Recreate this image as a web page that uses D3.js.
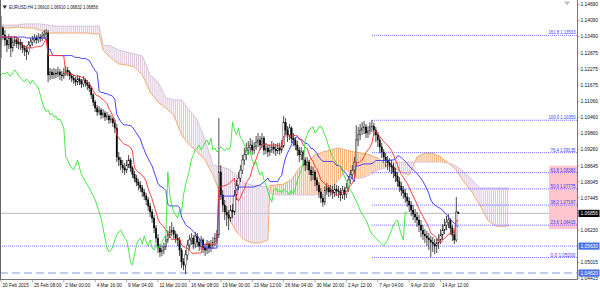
<!DOCTYPE html>
<html><head><meta charset="utf-8">
<script src="https://cdn.jsdelivr.net/npm/d3@7"></script>
<style>html,body{margin:0;padding:0;background:#fff;}svg{display:block;}</style>
</head><body>
<svg id="c" width="600" height="290"></svg>
<script>
// ---------------- DATA ----------------
const symbol = "EURUSD,H4";
const lastQuote = ["1.06910", "1.06910", "1.06832", "1.06856"];
const firstOpen = 1.1317;
const closes = [
1.1381,1.1355,1.1336,1.1317,1.1343,1.1306,1.1328,1.1336,1.1321,1.1328,
1.1317,1.1306,1.1298,1.1291,1.1317,1.1328,1.1336,1.1343,1.1336,1.1347,
1.1343,1.1351,1.1358,1.1362,1.1205,1.1216,1.1205,1.1212,1.1208,1.1216,
1.1205,1.1201,1.1212,1.1223,1.1216,1.1201,1.1193,1.1186,1.1178,1.1190,
1.1182,1.1171,1.1186,1.1175,1.1167,1.1156,1.1130,1.1103,1.1081,1.1066,
1.1073,1.1055,1.1062,1.1047,1.1051,1.1036,1.1040,1.1025,1.1006,1.0897,
1.0886,1.0867,1.0856,1.0848,1.0867,1.0886,1.0856,1.0833,1.0818,1.0803,
1.0792,1.0781,1.0766,1.0751,1.0736,1.0713,1.0691,1.0668,1.0631,1.0593,
1.0556,1.0541,1.0548,1.0560,1.0586,1.0605,1.0616,1.0623,1.0608,1.0593,
1.0586,1.0548,1.0503,1.0492,1.0530,1.0567,1.0586,1.0593,1.0571,1.0601,
1.0578,1.0563,1.0586,1.0556,1.0548,1.0571,1.0556,1.0567,1.0578,1.0593,
1.0605,1.0841,1.0755,1.0717,1.0691,1.0680,1.0668,1.0698,1.0691,1.0755,
1.0792,1.0818,1.0848,1.0886,1.0905,1.0923,1.0931,1.0942,1.0923,1.0935,
1.0953,1.0961,1.0942,1.0968,1.0923,1.0931,1.0916,1.0923,1.0935,1.0927,
1.0920,1.0931,1.0923,1.0938,1.1028,1.0998,1.0980,1.1006,1.0968,1.0961,
1.0942,1.0923,1.0905,1.0916,1.0886,1.0867,1.0878,1.0848,1.0830,1.0841,
1.0811,1.0792,1.0766,1.0743,1.0728,1.0773,1.0781,1.0766,1.0773,1.0762,
1.0777,1.0770,1.0766,1.0755,1.0773,1.0758,1.0781,1.0811,1.0830,1.0848,
1.0878,1.0961,1.0980,1.0998,1.1006,1.1010,1.0987,1.0995,1.1010,1.1013,
1.0998,1.0980,1.0961,1.0935,1.0916,1.0897,1.0886,1.0875,1.0867,1.0860,
1.0841,1.0826,1.0807,1.0788,1.0773,1.0762,1.0747,1.0732,1.0717,1.0698,
1.0683,1.0672,1.0661,1.0642,1.0623,1.0608,1.0601,1.0593,1.0586,1.0578,
1.0571,1.0563,1.0575,1.0586,1.0605,1.0623,1.0642,1.0653,1.0661,1.0631,
1.0605,1.0586,1.0691,1.06856];
const highs = [
1.1426,1.1388,1.1373,1.1347,1.1358,1.1351,1.1343,1.1351,1.1347,1.1343,
1.1340,1.1328,1.1317,1.1313,1.1332,1.1343,1.1351,1.1358,1.1355,1.1362,
1.1358,1.1366,1.1373,1.1377,1.1373,1.1231,1.1227,1.1231,1.1227,1.1235,
1.1227,1.1220,1.1231,1.1238,1.1235,1.1223,1.1212,1.1205,1.1197,1.1205,
1.1201,1.1190,1.1201,1.1193,1.1186,1.1178,1.1163,1.1137,1.1111,1.1092,
1.1088,1.1081,1.1077,1.1070,1.1066,1.1058,1.1055,1.1047,1.1036,1.1021,
1.0916,1.0897,1.0886,1.0875,1.0886,1.0905,1.0893,1.0863,1.0845,1.0830,
1.0815,1.0807,1.0792,1.0777,1.0762,1.0747,1.0725,1.0702,1.0680,1.0642,
1.0608,1.0571,1.0567,1.0575,1.0601,1.0623,1.0638,1.0653,1.0635,1.0620,
1.0608,1.0597,1.0556,1.0518,1.0548,1.0586,1.0605,1.0612,1.0605,1.0616,
1.0612,1.0593,1.0601,1.0593,1.0571,1.0586,1.0582,1.0586,1.0597,1.0612,
1.0623,1.1043,1.0867,1.0773,1.0736,1.0713,1.0698,1.0717,1.0721,1.0773,
1.0811,1.0841,1.0867,1.0905,1.0931,1.0950,1.0957,1.0968,1.0961,1.0953,
1.0976,1.0987,1.0976,1.0987,1.0976,1.0950,1.0942,1.0942,1.0957,1.0950,
1.0946,1.0950,1.0950,1.0961,1.1051,1.1043,1.1013,1.1021,1.1013,1.0987,
1.0972,1.0957,1.0935,1.0935,1.0923,1.0897,1.0897,1.0886,1.0863,1.0860,
1.0848,1.0822,1.0803,1.0781,1.0758,1.0788,1.0800,1.0792,1.0792,1.0788,
1.0796,1.0792,1.0788,1.0781,1.0788,1.0785,1.0800,1.0826,1.0848,1.0867,
1.0897,1.1017,1.1010,1.1021,1.1028,1.1032,1.1021,1.1013,1.1028,1.1036,
1.1025,1.1010,1.0991,1.0972,1.0950,1.0927,1.0912,1.0901,1.0893,1.0886,
1.0875,1.0856,1.0841,1.0822,1.0803,1.0788,1.0777,1.0762,1.0747,1.0732,
1.0717,1.0702,1.0691,1.0680,1.0661,1.0642,1.0627,1.0620,1.0612,1.0601,
1.0597,1.0590,1.0593,1.0608,1.0627,1.0646,1.0665,1.0676,1.0683,1.0668,
1.0642,1.0623,1.0747,1.06910];
const lows = [
1.1268,1.1336,1.1313,1.1291,1.1302,1.1272,1.1291,1.1313,1.1306,1.1302,
1.1298,1.1287,1.1276,1.1261,1.1280,1.1306,1.1313,1.1325,1.1321,1.1325,
1.1328,1.1332,1.1340,1.1343,1.1178,1.1186,1.1190,1.1190,1.1193,1.1197,
1.1186,1.1182,1.1190,1.1201,1.1201,1.1186,1.1178,1.1171,1.1163,1.1167,
1.1167,1.1156,1.1160,1.1160,1.1148,1.1141,1.1115,1.1088,1.1066,1.1051,
1.1055,1.1040,1.1043,1.1032,1.1036,1.1021,1.1025,1.1010,1.0987,1.0878,
1.0863,1.0848,1.0837,1.0830,1.0837,1.0856,1.0841,1.0818,1.0803,1.0788,
1.0773,1.0766,1.0747,1.0736,1.0717,1.0695,1.0672,1.0650,1.0612,1.0575,
1.0537,1.0522,1.0526,1.0533,1.0548,1.0575,1.0593,1.0601,1.0590,1.0575,
1.0563,1.0526,1.0481,1.0473,1.0458,1.0511,1.0548,1.0567,1.0552,1.0556,
1.0560,1.0545,1.0548,1.0537,1.0526,1.0533,1.0537,1.0541,1.0552,1.0563,
1.0578,1.0593,1.0736,1.0691,1.0661,1.0638,1.0623,1.0653,1.0668,1.0680,
1.0736,1.0773,1.0803,1.0833,1.0867,1.0886,1.0905,1.0912,1.0905,1.0908,
1.0923,1.0935,1.0923,1.0931,1.0905,1.0908,1.0897,1.0901,1.0912,1.0908,
1.0901,1.0908,1.0905,1.0912,1.0931,1.0980,1.0953,1.0961,1.0950,1.0938,
1.0923,1.0901,1.0878,1.0886,1.0863,1.0845,1.0848,1.0830,1.0807,1.0811,
1.0788,1.0770,1.0743,1.0725,1.0710,1.0717,1.0755,1.0747,1.0751,1.0740,
1.0747,1.0751,1.0743,1.0732,1.0740,1.0736,1.0743,1.0766,1.0796,1.0815,
1.0833,1.0863,1.0938,1.0961,1.0980,1.0983,1.0968,1.0968,1.0980,1.0991,
1.0976,1.0953,1.0935,1.0912,1.0893,1.0875,1.0860,1.0848,1.0841,1.0833,
1.0818,1.0803,1.0785,1.0766,1.0751,1.0740,1.0725,1.0710,1.0691,1.0676,
1.0661,1.0650,1.0635,1.0616,1.0597,1.0586,1.0575,1.0563,1.0548,1.0522,
1.0541,1.0533,1.0537,1.0552,1.0571,1.0586,1.0608,1.0623,1.0631,1.0608,
1.0582,1.0571,1.0578,1.06832];

// Ichimoku cloud spans (plotted bar index)
const cloudBars = [0,4,8,12,16,20,24,28,32,36,40,44,48,50,52,56,60,64,68,72,76,80,84,88,92,96,100,104,108,112,116,120,124,128,132,136,137,140,144,148,152,156,160,164,168,172,176,180,184,188,192,196,200,204,208,212,216,220,224,228,232,236,240,244,248,252,256,259];
const spanA = [1.1381,1.1381,1.1385,1.1381,1.1381,1.1373,1.1362,1.1362,1.1362,1.1362,1.1362,1.1362,1.1358,1.1358,1.1298,1.1268,1.1246,1.1242,1.1235,1.1205,1.1141,1.1103,1.1081,1.1055,1.0980,1.0942,1.0916,1.0886,1.0830,1.0755,1.0668,1.0616,1.0586,1.0575,1.0575,1.0586,1.0790,1.0792,1.0796,1.0811,1.0856,1.0878,1.0905,1.0916,1.0923,1.0931,1.0923,1.0916,1.0912,1.0905,1.0893,1.0867,1.0856,1.0841,1.0830,1.0897,1.0912,1.0912,1.0897,1.0875,1.0848,1.0803,1.0766,1.0717,1.0661,1.0638,1.0635,1.0642];
const spanB = [1.1392,1.1392,1.1392,1.1396,1.1396,1.1396,1.1392,1.1388,1.1388,1.1388,1.1388,1.1388,1.1388,1.1388,1.1317,1.1313,1.1298,1.1291,1.1283,1.1276,1.1205,1.1178,1.1118,1.1111,1.1111,1.1073,1.1036,1.0961,1.0867,1.0860,1.0852,1.0830,1.0800,1.0792,1.0788,1.0785,1.0760,1.0755,1.0755,1.0755,1.0755,1.0755,1.0755,1.0762,1.0773,1.0811,1.0848,1.0818,1.0818,1.0830,1.0848,1.0856,1.0878,1.0878,1.0878,1.0878,1.0878,1.0878,1.0878,1.0875,1.0863,1.0841,1.0811,1.0781,1.0781,1.0781,1.0781,1.0781];

const priceTicks = [1.14690,1.14090,1.13490,1.12875,1.12275,1.11675,1.11060,1.10460,1.09860,1.09260,1.08645,1.08045,1.07445,1.06230,1.05015,1.04415];
const timeLabels = ["20 Feb 2015","25 Feb 08:00","2 Mar 00:00","4 Mar 16:00","9 Mar 04:00","11 Mar 20:00","16 Mar 08:00","19 Mar 00:00","23 Mar 12:00","26 Mar 04:00","30 Mar 20:00","2 Apr 12:00","7 Apr 04:00","9 Apr 20:00","14 Apr 12:00"];
const timeLabelBars = [0,16,32,48,64,80,96,112,128,144,160,176,192,208,224];

const fibLevels = [161.8,100.0,76.4,61.8,50.0,38.2,23.6,0.0];
const fibLow = 1.05200, fibHigh = 1.10350, fibStartBar = 189;
const bidPrice = 1.06856;
const blueLinePrice = 1.05630;
const dashedLinePrice = 1.04620;

// ---------------- DRAW ----------------
const svg = d3.select("#c");
const PR = 577, PB = 279.5;
const FONT = "'Liberation Sans', Arial, sans-serif";
const x = d3.scaleLinear().domain([0, 224]).range([1, 440.6]);
const y = d3.scaleLinear().domain([1.04415, 1.14690]).range([278.5, 4.5]);
const step = x(1) - x(0);
const opens = closes.map((c, i) => i === 0 ? firstOpen : closes[i - 1]);

const defs = svg.append("defs");
defs.append("clipPath").attr("id", "plot").append("rect").attr("x", 0).attr("y", 0).attr("width", PR).attr("height", PB);
function hatch(id, color) {
  const p = defs.append("pattern").attr("id", id).attr("patternUnits", "userSpaceOnUse")
    .attr("x", x(0) - 0.45).attr("y", 0).attr("width", step).attr("height", 10);
  p.append("rect").attr("x", 0).attr("y", 0).attr("width", 0.9).attr("height", 10).attr("fill", color);
}
hatch("hSandy", "#F4A460");
hatch("hThistle", "#D8BFD8");

const cloud = cloudBars.map((b, i) => ({ b, a: spanA[i], bb: spanB[i] }));
defs.append("clipPath").attr("id", "aboveB").append("path")
  .attr("d", d3.area().x(d => x(d.b)).y0(0).y1(d => y(d.bb))(cloud));
defs.append("clipPath").attr("id", "aboveA").append("path")
  .attr("d", d3.area().x(d => x(d.b)).y0(0).y1(d => y(d.a))(cloud));

const g = svg.append("g").attr("clip-path", "url(#plot)");
const band = d3.area().x(d => x(d.b)).y0(d => y(d.a)).y1(d => y(d.bb));
g.append("path").attr("d", band(cloud)).attr("fill", "url(#hSandy)").attr("clip-path", "url(#aboveB)");
g.append("path").attr("d", band(cloud)).attr("fill", "url(#hThistle)").attr("clip-path", "url(#aboveA)");
g.append("path").attr("d", d3.line().x(d => x(d.b)).y(d => y(d.a))(cloud))
  .attr("fill", "none").attr("stroke", "#F4A460").attr("stroke-width", 0.9);
g.append("path").attr("d", d3.line().x(d => x(d.b)).y(d => y(d.bb))(cloud))
  .attr("fill", "none").attr("stroke", "#D8BFD8").attr("stroke-width", 0.9);

// horizontal lines
g.append("line").attr("x1", 0).attr("x2", PR).attr("y1", y(bidPrice)).attr("y2", y(bidPrice))
  .attr("stroke", "#c8c8c8").attr("stroke-width", 1.2);
g.append("line").attr("x1", 0).attr("x2", PR).attr("y1", y(blueLinePrice)).attr("y2", y(blueLinePrice))
  .attr("stroke", "#5a5af0").attr("stroke-width", 0.8).attr("stroke-dasharray", "1,1");
g.append("line").attr("x1", 0).attr("x2", PR).attr("y1", y(dashedLinePrice)).attr("y2", y(dashedLinePrice))
  .attr("stroke", "#a9bff0").attr("stroke-width", 1.5).attr("stroke-dasharray", "8,4");

// fibonacci
const fibs = fibLevels.map(l => ({ l, p: fibLow + (fibHigh - fibLow) * l / 100 }));
g.append("rect").attr("x", 549).attr("width", PR - 549)
  .attr("y", y(fibLow + (fibHigh - fibLow) * 0.618) - 7)
  .attr("height", y(fibLow + (fibHigh - fibLow) * 0.236) - y(fibLow + (fibHigh - fibLow) * 0.618) + 11)
  .attr("fill", "#ffc6cf");
g.selectAll(".fib").data(fibs).join("line")
  .attr("x1", x(fibStartBar)).attr("x2", PR).attr("y1", d => y(d.p)).attr("y2", d => y(d.p))
  .attr("stroke", "#4d4dff").attr("stroke-width", 0.8).attr("stroke-dasharray", "1,1");
g.selectAll(".fibt").data(fibs).join("text")
  .attr("x", 575.5).attr("y", d => y(d.p) - 1).attr("text-anchor", "end")
  .attr("font-family", FONT).attr("font-size", 4.6).attr("fill", "#3535ff")
  .attr("textLength", d => d.l >= 100 ? 27 : 25).attr("lengthAdjust", "spacingAndGlyphs")
  .text(d => d.l.toFixed(1) + " " + d.p.toFixed(5));

// candles
const bars = d3.range(closes.length);
g.selectAll(".wick").data(bars).join("line")
  .attr("x1", i => x(i)).attr("x2", i => x(i)).attr("y1", i => y(highs[i])).attr("y2", i => y(lows[i]))
  .attr("stroke", "#000").attr("stroke-width", 0.7);
g.selectAll(".body").data(bars).join("rect")
  .attr("x", i => x(i) - 0.7).attr("width", 1.4)
  .attr("y", i => y(Math.max(opens[i], closes[i])))
  .attr("height", i => Math.max(0.6, Math.abs(y(opens[i]) - y(closes[i]))))
  .attr("fill", i => closes[i] >= opens[i] ? "#fff" : "#000")
  .attr("stroke", "#000").attr("stroke-width", 0.4);

// ichimoku lines
function midline(period) {
  return closes.map((_, i) => {
    const s = Math.max(0, i - period + 1);
    return (d3.max(highs.slice(s, i + 1)) + d3.min(lows.slice(s, i + 1))) / 2;
  });
}
const tenkan = midline(9), kijun = midline(26);
const ln = d3.line().x(d => x(d[0])).y(d => y(d[1]));
g.append("path").attr("d", ln(kijun.map((v, i) => [i, v]))).attr("fill", "none").attr("stroke", "#2f2fff").attr("stroke-width", 0.9);
g.append("path").attr("d", ln(tenkan.map((v, i) => [i, v]))).attr("fill", "none").attr("stroke", "#ff2a2a").attr("stroke-width", 0.9);
g.append("path").attr("d", ln(closes.slice(26).map((v, i) => [i, v]))).attr("fill", "none").attr("stroke", "#33e633").attr("stroke-width", 0.9);

// frame
svg.append("line").attr("x1", 0.5).attr("x2", 0.5).attr("y1", 0).attr("y2", PB).attr("stroke", "#666").attr("stroke-width", 1);
svg.append("line").attr("x1", 0).attr("x2", PR + 0.5).attr("y1", PB).attr("y2", PB).attr("stroke", "#777").attr("stroke-width", 1);
svg.append("line").attr("x1", PR + 0.5).attr("x2", PR + 0.5).attr("y1", 0).attr("y2", PB).attr("stroke", "#777").attr("stroke-width", 1);

// title
svg.append("path").attr("d", "M2.5,5.5 L7,5.5 L4.75,9 Z").attr("fill", "#333");
svg.append("text").attr("x", 9).attr("y", 8.8).attr("font-family", FONT).attr("font-size", 4.8).attr("fill", "#111")
  .attr("textLength", 89).attr("lengthAdjust", "spacingAndGlyphs")
  .text(symbol + " " + lastQuote.join(" "));
// shift marker
svg.append("path").attr("d", "M564,1.5 L570,1.5 L567,5.5 Z").attr("fill", "#bdbdbd");

// price axis
const ax = svg.append("g");
ax.selectAll(".pt").data(priceTicks).join("line")
  .attr("x1", PR).attr("x2", PR + 2.5).attr("y1", d => y(d)).attr("y2", d => y(d)).attr("stroke", "#777").attr("stroke-width", 0.6);
ax.selectAll(".pl").data(priceTicks).join("text")
  .attr("x", 580.5).attr("y", d => y(d) + 1.8).attr("font-family", FONT).attr("font-size", 5).attr("fill", "#111")
  .attr("textLength", 17.5).attr("lengthAdjust", "spacingAndGlyphs")
  .text(d => d.toFixed(5));
const marks = [{ p: bidPrice, bg: "#000" }, { p: blueLinePrice, bg: "#4a73e8" }, { p: dashedLinePrice, bg: "#4a73e8" }];
marks.forEach(m => {
  ax.append("rect").attr("x", 578.5).attr("y", y(m.p) - 3.6).attr("width", 21).attr("height", 7.2).attr("fill", m.bg);
  ax.append("text").attr("x", 580.5).attr("y", y(m.p) + 1.8).attr("font-family", FONT).attr("font-size", 5).attr("fill", "#fff")
    .attr("textLength", 17.5).attr("lengthAdjust", "spacingAndGlyphs").text(m.p.toFixed(5));
});

// time axis
const tx = svg.append("g");
tx.selectAll(".tt").data(timeLabelBars).join("line")
  .attr("x1", b => x(b)).attr("x2", b => x(b)).attr("y1", PB).attr("y2", PB + 3).attr("stroke", "#777").attr("stroke-width", 0.6);
tx.selectAll(".tl").data(timeLabelBars).join("text")
  .attr("x", b => x(b) + 1.5).attr("y", 286.8).attr("font-family", FONT).attr("font-size", 4.7).attr("fill", "#111")
  .text((b, i) => timeLabels[i]);
</script>
</body></html>
